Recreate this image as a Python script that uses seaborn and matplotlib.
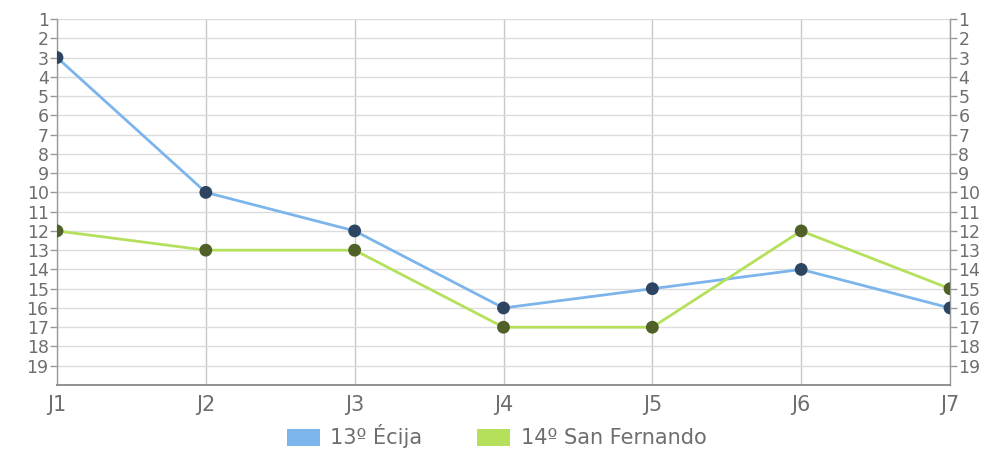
import pandas as pd
import matplotlib.pyplot as plt
import seaborn as sns
from matplotlib.patches import Patch

# Datos
jornadas = ['J1', 'J2', 'J3', 'J4', 'J5', 'J6', 'J7']
ecija = [3, 10, 12, 16, 15, 14, 16]
san_fernando = [12, 13, 13, 17, 17, 12, 15]
equipos = ['13º Écija', '14º San Fernando']

colores_linea = {'13º Écija': '#7cb5ec', '14º San Fernando': '#b5e05c'}
colores_punto = {'13º Écija': '#2d4560', '14º San Fernando': '#4f6129'}

sns.set_theme(style="white")
plt.rcParams['font.family'] = ['DejaVu Sans']

df = pd.DataFrame({
    'x': list(range(len(jornadas))) * 2,
    'pos': ecija + san_fernando,
    'equipo': [equipos[0]] * len(jornadas) + [equipos[1]] * len(jornadas),
})

fig = plt.figure(figsize=(9.93, 4.5), dpi=100)
ax = fig.add_axes([0.0574, 0.1444, 0.8993, 0.8134])

sns.lineplot(data=df, x='x', y='pos', hue='equipo', palette=colores_linea,
             linewidth=2, legend=False, ax=ax, zorder=3)
sns.scatterplot(data=df, x='x', y='pos', hue='equipo', palette=colores_punto,
                s=85, edgecolor='none', legend=False, ax=ax, zorder=4)

ax.set_xlim(0, 6)
ax.set_ylim(20, 1)
ax.set_xticks(range(len(jornadas)))
ax.set_xticklabels(jornadas)
ax.set_yticks(range(1, 20))
ax.set_xlabel('')
ax.set_ylabel('')

ax.yaxis.grid(True, color='#dcdcdc', linewidth=1)
ax.xaxis.grid(True, color='#c8c8c8', linewidth=1)
ax.set_axisbelow(True)
ax.spines['top'].set_visible(False)
for s in ['left', 'right']:
    ax.spines[s].set_color('#999999')
    ax.spines[s].set_linewidth(1)
ax.spines['bottom'].set_color('#888888')
ax.spines['bottom'].set_linewidth(1.3)

ax.tick_params(axis='y', which='both', left=True, right=True, labelleft=True,
               labelright=True, length=5, width=1, color='#999999',
               labelcolor='#6e6e6e', labelsize=12.5, pad=1)
ax.tick_params(axis='x', length=0, labelcolor='#6e6e6e', labelsize=15, pad=7)

handles = [Patch(facecolor=colores_linea[e], edgecolor='none') for e in equipos]
fig.legend(handles, equipos, loc='center', bbox_to_anchor=(0.5, 0.03), ncol=2,
           frameon=False, fontsize=15, labelcolor='#6e6e6e',
           handlelength=1.6, handleheight=0.9, columnspacing=2.6, handletextpad=0.5)

fig.savefig('out.png', dpi=100)
